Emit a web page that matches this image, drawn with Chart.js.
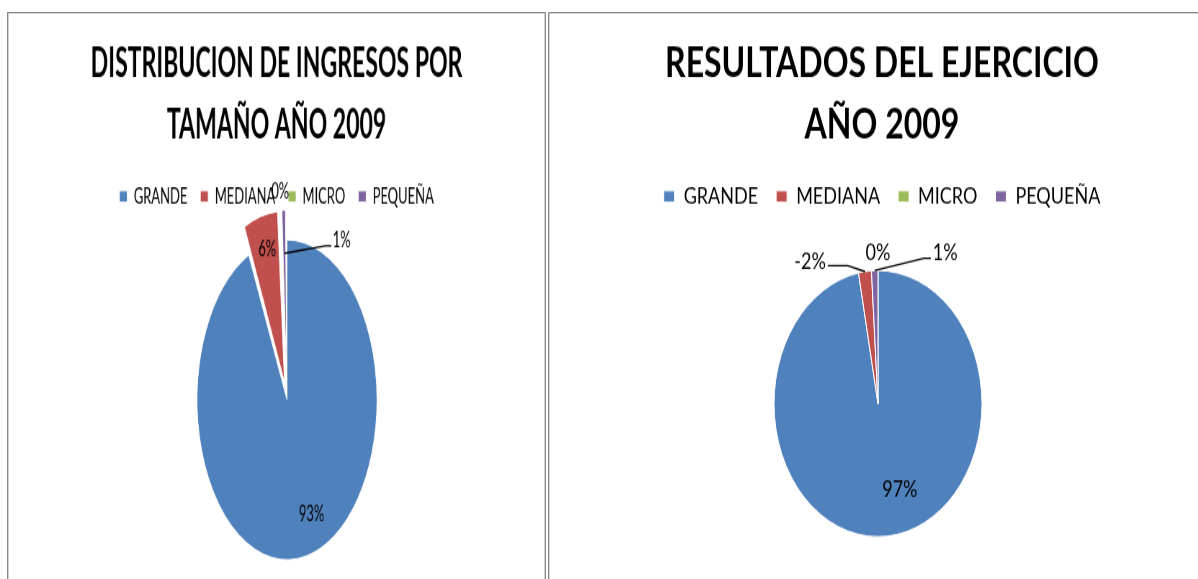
<!DOCTYPE html>
<html>
<head>
<meta charset="utf-8">
<script src="https://cdn.jsdelivr.net/npm/chart.js@4.4.0/dist/chart.umd.min.js"></script>
<style>
    html, body { margin: 0; padding: 0; background: #fff; overflow: hidden; width: 1198px; height: 579px; }
    .caja { position: absolute; top: 12px; height: 620px; border: 1px solid #8a8a8a; box-shadow: inset 0 0 0 1px #d2d2d2; overflow: hidden; background: #fff; }
    #cajaIzq { left: 7px; width: 537px; }
    #cajaDer { left: 548px; width: 700px; }
    canvas { position: absolute; left: 0; top: 0; transform-origin: 0 0; }
    /* el grafico original esta estirado: torta eliptica */
    #izq { transform: scale(0.72, 1.28); }
    #der { transform: scale(1, 1.28); }
</style>
</head>
<body>
<div class="caja" id="cajaIzq"><canvas id="izq" width="746" height="450"></canvas></div>
<div class="caja" id="cajaDer"><canvas id="der" width="666" height="450"></canvas></div>
<script>
    // datos
    const categorias = ['GRANDE', 'MEDIANA', 'MICRO', 'PEQUEÑA'];
    const ingresos2009 = [93, 6, 0, 1];      // % de ingresos por tamaño
    const resultados2009 = [97, -2, 0, 1];   // % de resultados del ejercicio
    const colores = ['#4F81BD', '#C0504D', '#9BBB59', '#8064A2'];

    // etiquetas de porcentaje con lineas guia
    const etiquetasPlugin = {
        id: 'etiquetas',
        beforeDatasetsDraw(chart, args, opts) {
            chart.ctx.save();
            chart.ctx.translate(opts.shiftX || 0, 0);
        },
        afterDatasetsDraw(chart, args, opts) {
            const ctx = chart.ctx;
            const meta = chart.getDatasetMeta(0);
            const data = chart.data.datasets[0].data;
            const total = data.reduce((s, v) => s + Math.abs(v), 0);
            ctx.font = opts.font;
            ctx.fillStyle = '#000';
            ctx.strokeStyle = '#000';
            ctx.lineWidth = 1.3;
            ctx.textAlign = 'center';
            ctx.textBaseline = 'middle';
            meta.data.forEach((arc, i) => {
                const sp = opts.pos[i];
                const p = arc.getProps(['x', 'y', 'startAngle', 'endAngle', 'outerRadius', 'circumference']);
                const mid = (p.startAngle + p.endAngle) / 2;
                // mismo desplazamiento que usa Chart.js para el offset
                const off = (arc.options.offset || 0) / 4;
                const fix = 1 - Math.sin(Math.min(Math.PI, p.circumference || 0));
                const d = off * (1 + fix);
                const cx = p.x + Math.cos(mid) * d;
                const cy = p.y + Math.sin(mid) * d;
                const R = p.outerRadius;
                const a = mid + sp.da * Math.PI / 180;
                const lx = cx + Math.cos(a) * R * sp.r;
                const ly = cy + Math.sin(a) * R * sp.r;
                const txt = Math.round(data[i] / total * 100) + '%';
                if (sp.linea) {
                    const w = ctx.measureText(txt).width;
                    const dir = lx > cx ? -1 : 1;
                    const x0 = lx + dir * (w / 2 + 2);
                    const y0 = ly + sp.linea.dy;
                    const x1 = x0 + dir * sp.linea.h;
                    const tx = cx + Math.cos(mid) * R * sp.linea.r;
                    const ty = cy + Math.sin(mid) * R * sp.linea.r;
                    ctx.beginPath();
                    ctx.moveTo(x0, y0);
                    ctx.lineTo(x1, y0);
                    ctx.lineTo(tx, ty);
                    ctx.stroke();
                }
                ctx.fillText(txt, lx, ly);
            });
            ctx.restore();
        }
    };

    function crearTorta(id, titulo, valores, cfg) {
        return new Chart(document.getElementById(id), {
            type: 'pie',
            data: {
                labels: categorias,
                datasets: [{
                    data: valores,
                    backgroundColor: colores,
                    borderColor: '#fff',
                    borderWidth: 1,
                    offset: cfg.offsets,
                    radius: cfg.radio
                }]
            },
            options: {
                responsive: false,
                animation: false,
                events: [],
                devicePixelRatio: 1,
                layout: { padding: { bottom: cfg.padB } },
                plugins: {
                    title: {
                        display: true,
                        text: titulo,
                        color: '#000',
                        font: { family: 'Lato', size: 32, weight: 'bold', lineHeight: 1.49 },
                        padding: { top: 16, bottom: 5 }
                    },
                    legend: {
                        position: 'top',
                        labels: {
                            boxWidth: 11,
                            boxHeight: 9,
                            color: '#000',
                            font: { family: 'Lato', size: 18 },
                            padding: 18
                        }
                    },
                    tooltip: { enabled: false },
                    etiquetas: {
                        shiftX: cfg.shiftX,
                        font: '18px Lato',
                        pos: cfg.pos
                    }
                }
            },
            plugins: [etiquetasPlugin]
        });
    }

    crearTorta('izq', ['DISTRIBUCION DE INGRESOS POR', 'TAMAÑO AÑO 2009'], ingresos2009, {
        offsets: [0, 56, 0, 48],
        radio: 125,
        padB: 8,
        shiftX: 14.5,
        pos: [
            { r: 0.76, da: -8.4 },
            { r: 0.79, da: 1.7 },
            { r: 1.31, da: 0.3 },
            { r: 1.02, da: 38.8, linea: { dy: 4.7, h: 8, r: 0.73 } }
        ]
    });

    crearTorta('der', ['RESULTADOS DEL EJERCICIO', 'AÑO 2009'], resultados2009, {
        offsets: [0, 0, 0, 0],
        radio: 104,
        padB: 2,
        shiftX: -4,
        pos: [
            { r: 0.68, da: -12.6 },
            { r: 1.25, da: -24.3, linea: { dy: 3, h: 20, r: 1.0 } },
            { r: 1.13, da: 3.6 },
            { r: 1.31, da: 31.4, linea: { dy: 5, h: 7, r: 1.0 } }
        ]
    });
</script>
</body>
</html>
